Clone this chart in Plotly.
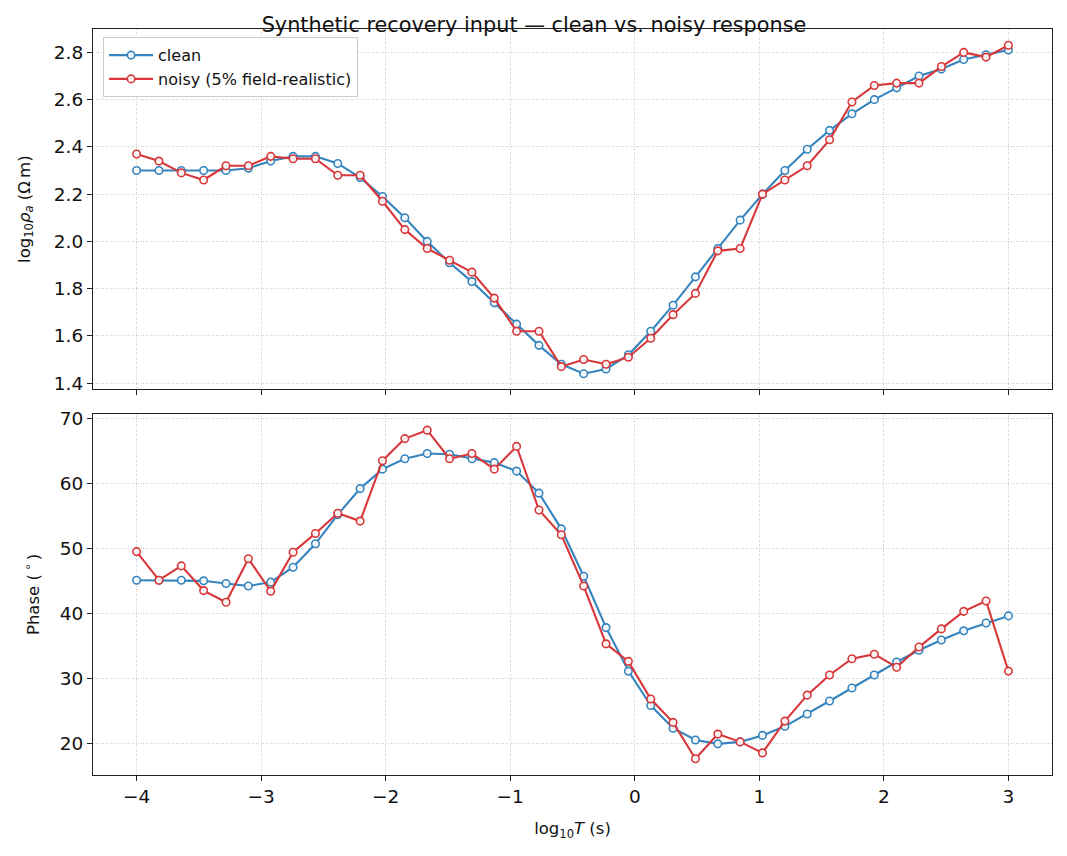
import numpy as np
import plotly.graph_objects as go

# ---- data ----
log_T = np.linspace(-4, 3, 40)

rho_clean = [2.30, 2.30, 2.30, 2.30, 2.30, 2.31, 2.34, 2.36, 2.36, 2.33,
             2.27, 2.19, 2.10, 2.00, 1.91, 1.83, 1.74, 1.65, 1.56, 1.48,
             1.44, 1.46, 1.52, 1.62, 1.73, 1.85, 1.97, 2.09, 2.20, 2.30,
             2.39, 2.47, 2.54, 2.60, 2.65, 2.70, 2.73, 2.77, 2.79, 2.81]
rho_noisy = [2.37, 2.34, 2.29, 2.26, 2.32, 2.32, 2.36, 2.35, 2.35, 2.28,
             2.28, 2.17, 2.05, 1.97, 1.92, 1.87, 1.76, 1.62, 1.62, 1.47,
             1.50, 1.48, 1.51, 1.59, 1.69, 1.78, 1.96, 1.97, 2.20, 2.26,
             2.32, 2.43, 2.59, 2.66, 2.67, 2.67, 2.74, 2.80, 2.78, 2.83]
phase_clean = [45.1, 45.1, 45.1, 45.0, 44.6, 44.2, 44.8, 47.1, 50.7, 55.2,
               59.2, 62.2, 63.8, 64.6, 64.5, 63.8, 63.2, 61.9, 58.5, 53.0,
               45.7, 37.8, 31.1, 25.8, 22.3, 20.5, 19.9, 20.2, 21.2, 22.6,
               24.5, 26.5, 28.5, 30.5, 32.5, 34.3, 35.9, 37.3, 38.5, 39.6]
phase_noisy = [49.5, 45.1, 47.3, 43.5, 41.7, 48.4, 43.4, 49.4, 52.3, 55.4,
               54.2, 63.5, 66.9, 68.2, 63.8, 64.6, 62.2, 65.7, 55.9, 52.1,
               44.2, 35.3, 32.6, 26.8, 23.2, 17.6, 21.4, 20.2, 18.5, 23.4,
               27.4, 30.5, 33.0, 33.7, 31.7, 34.8, 37.6, 40.3, 41.9, 31.1]

x_ticks = [-4, -3, -2, -1, 0, 1, 2, 3]
x_tick_labels = ["\u22124", "\u22123", "\u22122", "\u22121", "0", "1", "2", "3"]
rho_ticks = [1.4, 1.6, 1.8, 2.0, 2.2, 2.4, 2.6, 2.8]
phase_ticks = [20, 30, 40, 50, 60, 70]

BLUE = "#3584be"
RED = "#d8373a"
FONT = "DejaVu Sans"

fig = go.Figure()

def add(y, name, color, xa, ya, show):
    fig.add_trace(go.Scatter(
        x=log_T, y=y, name=name, mode="lines+markers",
        line=dict(color=color, width=2.1),
        marker=dict(symbol="circle", size=7.5, color="rgba(255,255,255,0.9)",
                    line=dict(color=color, width=1.6)),
        xaxis=xa, yaxis=ya, showlegend=show, legendgroup=name))

add(rho_clean, "clean", BLUE, "x", "y", True)
add(rho_noisy, "noisy (5% field-realistic)", RED, "x", "y", True)
add(phase_clean, "clean", BLUE, "x2", "y2", False)
add(phase_noisy, "noisy (5% field-realistic)", RED, "x2", "y2", False)

axis_common = dict(
    showline=True, mirror=True, linecolor="#222222", linewidth=1.2,
    ticks="outside", ticklen=5, tickwidth=1.1, tickcolor="#222222",
    showgrid=True, gridcolor="#cdcdcd", gridwidth=0.8, griddash="1px,1.5px",
    zeroline=False, tickfont=dict(family=FONT, size=18.5, color="#111111"),
)

# page body has an 8px margin: figure sized/offset to compensate
W, H = 1051, 840
xr = [-4.35, 3.35]
fig.update_layout(
    width=W, height=H,
    margin=dict(l=85, r=7, t=21, b=73),
    paper_bgcolor="white", plot_bgcolor="white",
    font=dict(family=FONT, color="#111111"),
    title=dict(text="Synthetic recovery input \u2014 clean vs. noisy response",
               x=(534 - 8) / W, xref="container", xanchor="center",
               y=1 - 16.5 / H, yref="container", yanchor="middle",
               font=dict(family=FONT, size=20.8, color="#111111")),
    xaxis=dict(domain=[0, 1], anchor="y", range=xr, tickvals=x_ticks,
               ticktext=[""] * len(x_ticks), **axis_common),
    yaxis=dict(domain=[0.517, 1], anchor="x", range=[1.374, 2.899],
               tickvals=rho_ticks, ticktext=[f"{v:.1f}" for v in rho_ticks],
               title=dict(text="log<sub>10</sub><i>\u03c1</i><sub><i>a</i></sub> (\u03a9\u2009m)",
                          font=dict(family=FONT, size=16.5), standoff=19),
               **axis_common),
    xaxis2=dict(domain=[0, 1], anchor="y2", range=xr, tickvals=x_ticks,
                ticktext=x_tick_labels,
                title=dict(text="log<sub>10</sub><i>T</i> (s)",
                           font=dict(family=FONT, size=16.5), standoff=16),
                **axis_common),
    yaxis2=dict(domain=[0, 0.484], anchor="x2", range=[15.1, 70.7],
                tickvals=phase_ticks, ticktext=[str(v) for v in phase_ticks],
                title=dict(text="Phase (\u2009<sup>\u2218</sup>\u2009)",
                           font=dict(family=FONT, size=16.5), standoff=15),
                **axis_common),
    legend=dict(x=0.0105, y=0.989, xanchor="left", yanchor="top",
                bgcolor="rgba(255,255,255,0.85)", bordercolor="#cccccc",
                borderwidth=1, font=dict(family=FONT, size=16, color="#111111"),
                itemwidth=44, tracegroupgap=0),
)

fig.write_html("out.html")
